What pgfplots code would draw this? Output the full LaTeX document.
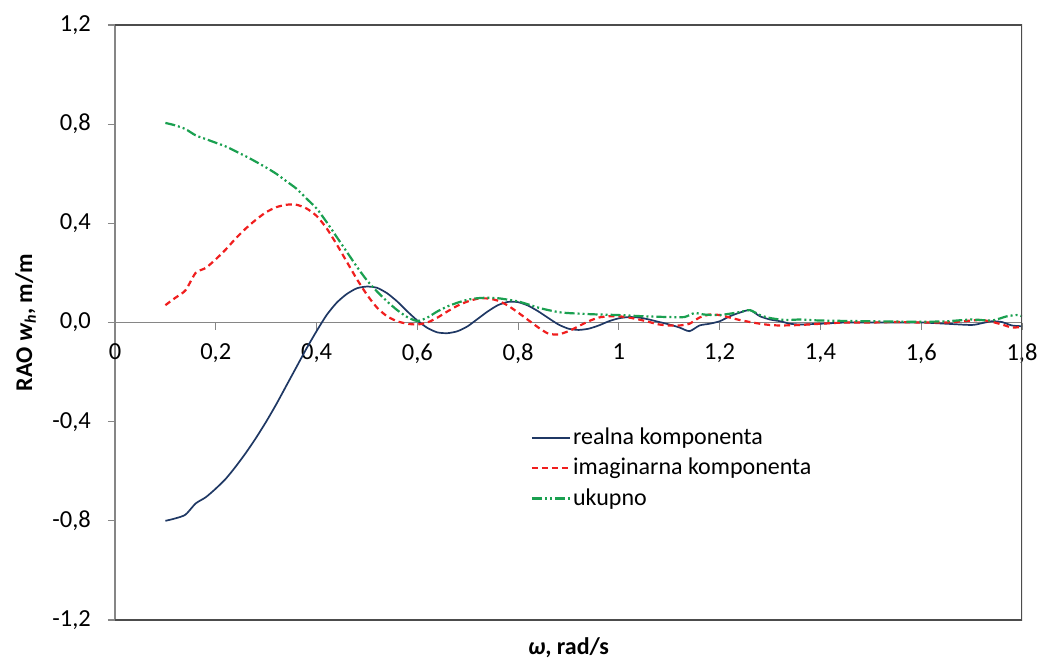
\documentclass[border=0pt]{standalone}
\usepackage{pgfplots}
\pgfplotsset{compat=1.18}
\usepackage{fontspec}
\setmainfont{Carlito}
\definecolor{cblue}{HTML}{1F3864}
\definecolor{cred}{HTML}{F01E1E}
\definecolor{cgreen}{HTML}{1AA050}
\definecolor{axgray}{HTML}{868686}
\begin{document}
\fontsize{24}{28}\selectfont
\begin{tikzpicture}
\useasboundingbox (-115pt,-39pt) rectangle (925pt,620pt);
\begin{axis}[
  at={(0,0)}, anchor=south west,
  scale only axis, width=907pt, height=595pt,
  xmin=0, xmax=1.8, ymin=-1.2, ymax=1.2,
  axis x line*=middle, axis y line*=left,
  hide obscured x ticks=false, hide obscured y ticks=false,
  axis line style={axgray, line width=1.2pt},
  tick style={axgray, line width=1.2pt},
  tick align=outside, major tick length=7pt,
  xtick={0,0.2,...,1.8}, ytick={-1.2,-0.8,...,1.2},
  /pgf/number format/assume math mode=true,
  /pgf/number format/use comma,
  xticklabel style={/pgf/number format/fixed, /pgf/number format/precision=1, font=\fontsize{24.5}{28}\selectfont, yshift=-6pt},
  yticklabel style={/pgf/number format/fixed, /pgf/number format/fixed zerofill, /pgf/number format/precision=1, font=\fontsize{24.5}{28}\selectfont, xshift=-9pt},
  scaled ticks=false,
  xlabel={\bfseries\itshape ω\upshape, rad/s},
  ylabel={\bfseries RAO \textit{w}$_{\textit{\fontsize{16}{19}\selectfont h}}$, m/m},
  label style={font=\fontsize{24}{28}\selectfont\bfseries},
  xlabel style={at={(rel axis cs:0.5,0)}, anchor=center, yshift=-28pt},
  ylabel style={at={(rel axis cs:-0.0985,0.5)}, anchor=center},
  legend style={at={(rel axis cs:0.455,0.33)}, anchor=north west, draw=none, fill=none,
    font=\fontsize{24}{28}\selectfont, row sep=6pt, /tikz/every even column/.append style={column sep=2pt}},
  legend cell align=left,
  legend image code/.code={\draw[#1] (0pt,0pt) -- (38pt,0pt);},
]
\addplot[cblue, line width=1.7pt, smooth, tension=0.4] coordinates {
(0.10,-0.800)(0.12,-0.790)(0.14,-0.775)(0.16,-0.730)(0.18,-0.705)(0.20,-0.670)
(0.22,-0.630)(0.24,-0.580)(0.26,-0.525)(0.28,-0.465)(0.30,-0.400)(0.32,-0.330)
(0.34,-0.255)(0.36,-0.180)(0.38,-0.105)(0.40,-0.035)(0.42,0.030)(0.44,0.080)
(0.46,0.115)(0.48,0.138)(0.50,0.145)(0.52,0.140)(0.54,0.118)(0.56,0.085)
(0.58,0.045)(0.60,0.008)(0.62,-0.022)(0.64,-0.040)(0.66,-0.043)(0.68,-0.035)
(0.70,-0.015)(0.72,0.015)(0.74,0.045)(0.76,0.070)(0.78,0.083)(0.80,0.082)
(0.82,0.068)(0.84,0.045)(0.86,0.018)(0.88,-0.008)(0.90,-0.025)(0.92,-0.030)
(0.94,-0.025)(0.96,-0.012)(0.98,0.005)(1.00,0.017)(1.02,0.022)(1.04,0.020)
(1.06,0.012)(1.08,0.002)(1.10,-0.008)(1.12,-0.020)(1.14,-0.035)(1.16,-0.012)
(1.18,-0.005)(1.20,0.005)(1.22,0.025)(1.24,0.040)(1.26,0.050)(1.28,0.025)
(1.30,0.012)(1.32,0.005)(1.34,-0.005)(1.36,-0.008)(1.40,-0.005)(1.45,0.000)
(1.50,0.000)(1.55,0.000)(1.60,0.000)(1.65,-0.005)(1.70,-0.010)(1.72,-0.003)
(1.74,0.005)(1.76,0.002)(1.78,-0.012)(1.80,-0.015)
};
\addlegendentry{realna komponenta}
\addplot[cred, line width=2.2pt, dash pattern=on 6pt off 4pt, smooth, tension=0.4] coordinates {
(0.10,0.070)(0.12,0.100)(0.14,0.130)(0.16,0.200)(0.18,0.220)(0.20,0.255)
(0.22,0.295)(0.24,0.340)(0.26,0.380)(0.28,0.415)(0.30,0.445)(0.32,0.465)
(0.34,0.475)(0.36,0.475)(0.38,0.460)(0.40,0.430)(0.42,0.380)(0.44,0.315)
(0.46,0.245)(0.48,0.175)(0.50,0.112)(0.52,0.060)(0.54,0.025)(0.56,0.005)
(0.58,-0.005)(0.60,-0.008)(0.62,0.000)(0.64,0.020)(0.66,0.045)(0.68,0.068)
(0.70,0.085)(0.72,0.096)(0.74,0.097)(0.76,0.088)(0.78,0.068)(0.80,0.040)
(0.82,0.010)(0.84,-0.020)(0.86,-0.045)(0.88,-0.048)(0.90,-0.035)(0.92,-0.015)
(0.94,0.005)(0.96,0.020)(0.98,0.025)(1.00,0.025)(1.02,0.020)(1.04,0.012)
(1.06,0.002)(1.08,-0.008)(1.10,-0.012)(1.12,-0.012)(1.14,-0.005)(1.16,0.020)
(1.18,0.032)(1.20,0.030)(1.22,0.020)(1.24,0.010)(1.26,0.002)(1.28,-0.005)
(1.30,-0.010)(1.32,-0.012)(1.36,-0.010)(1.40,-0.005)(1.45,0.000)(1.50,0.000)
(1.55,0.002)(1.60,0.000)(1.65,0.000)(1.70,0.008)(1.72,0.010)(1.74,0.003)
(1.76,-0.008)(1.78,-0.020)(1.80,-0.018)
};
\addlegendentry{imaginarna komponenta}
\addplot[cgreen, line width=2.2pt, dash pattern=on 10pt off 3pt on 2pt off 3pt on 2pt off 3pt, smooth, tension=0.4] coordinates {
(0.10,0.805)(0.12,0.795)(0.14,0.780)(0.16,0.755)(0.18,0.740)(0.20,0.725)
(0.22,0.710)(0.24,0.690)(0.26,0.670)(0.28,0.648)(0.30,0.625)(0.32,0.600)
(0.34,0.570)(0.36,0.540)(0.38,0.500)(0.40,0.460)(0.42,0.405)(0.44,0.345)
(0.46,0.285)(0.48,0.225)(0.50,0.170)(0.52,0.125)(0.54,0.085)(0.56,0.050)
(0.58,0.022)(0.60,0.006)(0.62,0.020)(0.64,0.045)(0.66,0.065)(0.68,0.080)
(0.70,0.092)(0.72,0.098)(0.74,0.100)(0.76,0.098)(0.78,0.092)(0.80,0.085)
(0.82,0.073)(0.84,0.060)(0.86,0.050)(0.88,0.042)(0.90,0.038)(0.95,0.033)
(1.00,0.030)(1.05,0.025)(1.10,0.022)(1.13,0.022)(1.15,0.038)(1.17,0.032)
(1.20,0.030)(1.24,0.042)(1.26,0.050)(1.28,0.030)(1.30,0.018)(1.33,0.010)
(1.36,0.012)(1.40,0.008)(1.50,0.005)(1.60,0.003)(1.65,0.005)(1.70,0.012)
(1.74,0.008)(1.77,0.025)(1.79,0.030)(1.80,0.025)
};
\addlegendentry{ukupno}
\draw[black!70, line width=1.2pt] (rel axis cs:0,0) -- (rel axis cs:1,0) -- (rel axis cs:1,1) -- (rel axis cs:0,1);
\end{axis}
\end{tikzpicture}
\end{document}
